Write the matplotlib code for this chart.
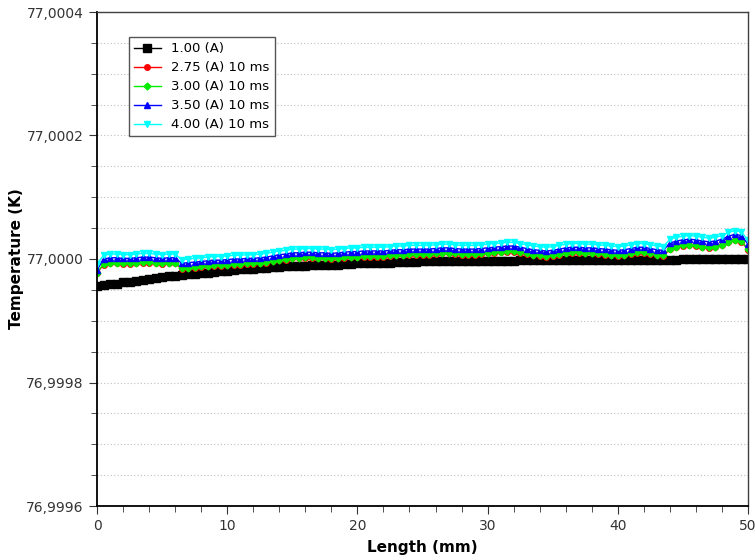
import matplotlib
matplotlib.use("Agg")
import matplotlib.pyplot as plt
import numpy as np
from matplotlib.ticker import AutoMinorLocator, FuncFormatter

# Length sampled every 0.5 mm
length_mm = np.arange(0, 50.5, 0.5)

# Temperature deviation from 77 K, in micro-kelvin
black_uK = [
    -43, -42, -41, -40, -38, -37, -35, -34, -32, -31,
    -29, -28, -27, -26, -25, -24, -23, -22, -21, -20,
    -19, -18, -17, -16, -16, -15, -14, -13, -13, -12,
    -12, -11, -11, -10, -10, -9, -9, -9, -8, -8,
    -7, -7, -7, -6, -6, -6, -5, -5, -5, -5,
    -4, -4, -4, -4, -4, -4, -3, -3, -3, -3,
    -3, -3, -3, -3, -3, -2, -2, -2, -2, -2,
    -2, -2, -2, -2, -2, -2, -2, -2, -2, -2,
    -2, -1, -1, -1, -1, -1, -1, -1, -1, -1,
    0, 0, 0, 0, 0, 0, 0, 0, 0, 0,
    0,
]
red_uK = [
    -23, -9, -7, -7, -8, -8, -7, -6, -6, -7,
    -8, -7, -7, -16, -15, -14, -13, -12, -11, -11,
    -10, -9, -9, -8, -8, -7, -6, -4, -2, -1,
    1, 1, 2, 2, 1, 1, 0, 1, 2, 3,
    3, 4, 4, 4, 4, 5, 6, 6, 7, 7,
    7, 7, 8, 9, 9, 8, 7, 7, 7, 8,
    9, 10, 11, 12, 12, 10, 8, 6, 5, 4,
    5, 7, 9, 10, 10, 9, 9, 8, 7, 6,
    5, 6, 8, 10, 10, 8, 6, 5, 16, 19,
    21, 22, 21, 19, 18, 19, 22, 27, 30, 28,
    15,
]
green_uK = [
    -22, -8, -6, -6, -7, -7, -6, -5, -5, -6,
    -7, -6, -6, -15, -14, -13, -12, -11, -10, -10,
    -9, -8, -8, -7, -7, -6, -5, -3, -1, 0,
    2, 2, 3, 3, 2, 2, 1, 2, 3, 4,
    4, 5, 5, 5, 5, 6, 7, 7, 8, 8,
    8, 8, 9, 10, 10, 9, 8, 8, 8, 9,
    10, 11, 12, 13, 13, 11, 9, 7, 6, 5,
    6, 8, 10, 11, 11, 10, 10, 9, 8, 7,
    6, 7, 9, 11, 11, 9, 7, 6, 17, 20,
    22, 23, 22, 20, 19, 20, 23, 28, 31, 29,
    16,
]
blue_uK = [
    -18, 0, 2, 2, 1, 1, 2, 3, 3, 2,
    1, 2, 2, -7, -6, -5, -4, -3, -2, -2,
    -1, 0, 0, 1, 1, 2, 3, 5, 7, 8,
    10, 10, 11, 11, 10, 10, 9, 10, 11, 12,
    12, 13, 13, 13, 13, 14, 15, 15, 16, 16,
    16, 16, 17, 18, 18, 17, 16, 16, 16, 17,
    18, 19, 20, 21, 21, 19, 17, 15, 14, 13,
    14, 16, 18, 19, 19, 18, 18, 17, 16, 15,
    14, 15, 17, 19, 19, 17, 15, 14, 26, 29,
    31, 32, 31, 29, 28, 29, 32, 37, 40, 38,
    24,
]
cyan_uK = [
    -8, 6, 8, 8, 7, 7, 8, 9, 9, 8,
    7, 8, 8, -1, 0, 1, 2, 3, 4, 4,
    5, 6, 6, 7, 7, 8, 9, 11, 13, 14,
    16, 16, 17, 17, 16, 16, 15, 16, 17, 18,
    18, 19, 19, 19, 19, 20, 21, 21, 22, 22,
    22, 22, 23, 24, 24, 23, 22, 22, 22, 23,
    24, 25, 26, 27, 27, 25, 23, 21, 20, 19,
    20, 22, 24, 25, 25, 24, 24, 23, 22, 21,
    20, 21, 23, 25, 25, 23, 21, 20, 32, 35,
    37, 38, 37, 35, 34, 35, 38, 43, 46, 44,
    30,
]

labels = ["1.00 (A)", "2.75 (A) 10 ms", "3.00 (A) 10 ms", "3.50 (A) 10 ms", "4.00 (A) 10 ms"]
y_ticks = [76.9996, 76.9998, 77.0000, 77.0002, 77.0004]
x_ticks = [0, 10, 20, 30, 40, 50]

series = [
    (black_uK, "#000000", "s", 6.0),
    (red_uK, "#ff0000", "o", 4.0),
    (green_uK, "#00ee00", "D", 3.5),
    (blue_uK, "#0000ff", "^", 4.0),
    (cyan_uK, "#00ffff", "v", 4.5),
]

fig = plt.figure(figsize=(7.55, 5.6), dpi=100)
ax = fig.add_axes([97 / 755, 1 - 506 / 560, (748 - 97) / 755, (506 - 12) / 560])

for (vals, color, marker, ms), lab in zip(series, labels):
    temp = 77.0 + np.array(vals) * 1e-6
    ax.plot(length_mm, temp, color=color, marker=marker, markersize=ms,
            linewidth=1.0, label=lab)

ax.set_xlim(0, 50)
ax.set_ylim(76.9996, 77.0004)
ax.set_xticks(x_ticks)
ax.set_yticks(y_ticks)
ax.xaxis.set_minor_locator(AutoMinorLocator(5))
ax.yaxis.set_minor_locator(AutoMinorLocator(4))
ax.yaxis.set_major_formatter(FuncFormatter(lambda v, p: f"{v:.4f}".replace(".", ",")))

ax.grid(True, axis="y", which="both", linestyle=(0, (1, 2)), color="#c0c0c0", linewidth=0.8)
ax.set_axisbelow(True)

ax.tick_params(axis="both", which="major", direction="out", length=6, labelsize=10,
               labelcolor="#333333", color="#333333")
ax.tick_params(axis="both", which="minor", direction="out", length=4, color="#333333")

for side in ["left", "bottom"]:
    ax.spines[side].set_color("#000000")
    ax.spines[side].set_linewidth(1.3)
for side in ["top", "right"]:
    ax.spines[side].set_color("#404040")
    ax.spines[side].set_linewidth(1.0)

ax.set_xlabel("Length (mm)", fontsize=11, fontweight="bold", labelpad=5)
ax.set_ylabel("Temperature (K)", fontsize=11, fontweight="bold", labelpad=2)

leg = ax.legend(loc="upper left", bbox_to_anchor=(0.049, 0.949), borderaxespad=0,
                fontsize=9.5, fancybox=False, framealpha=1, edgecolor="#555555",
                handlelength=2.0, labelspacing=0.45)
leg.get_frame().set_linewidth(1.0)

fig.savefig("out.png", dpi=100)
